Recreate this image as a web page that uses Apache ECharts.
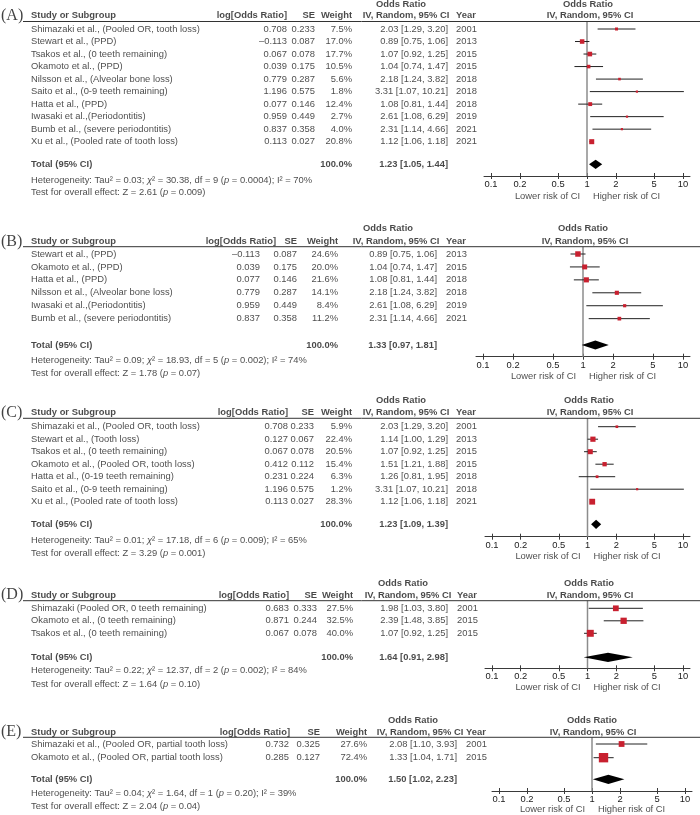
<!DOCTYPE html>
<html><head><meta charset="utf-8">
<script src="https://cdn.jsdelivr.net/npm/echarts@6/dist/echarts.min.js"></script>
<style>html,body{margin:0;padding:0;background:#fff}#c{width:700px;height:815px}</style>
</head><body><div id="c"></div>
<script>
// ---------- DATA ----------
const tickValues = [0.1, 0.2, 0.5, 1, 2, 5, 10];
const panelLabels = ['A', 'B', 'C', 'D', 'E'];

const A_study = ['Shimazaki et al., (Pooled OR, tooth loss)', 'Stewart et al., (PPD)', 'Tsakos et al., (0 teeth remaining)', 'Okamoto et al., (PPD)', 'Nilsson et al., (Alveolar bone loss)', 'Saito et al., (0-9 teeth remaining)', 'Hatta et al., (PPD)', 'Iwasaki et al.,(Periodontitis)', 'Bumb et al., (severe periodontitis)', 'Xu et al., (Pooled rate of tooth loss)'];
const A_logOR = [0.708, -0.113, 0.067, 0.039, 0.779, 1.196, 0.077, 0.959, 0.837, 0.113];
const A_se = [0.233, 0.087, 0.078, 0.175, 0.287, 0.575, 0.146, 0.449, 0.358, 0.027];
const A_weight = [7.5, 17.0, 17.7, 10.5, 5.6, 1.8, 12.4, 2.7, 4.0, 20.8];
const A_or = [2.03, 0.89, 1.07, 1.04, 2.18, 3.31, 1.08, 2.61, 2.31, 1.12];
const A_lo = [1.29, 0.75, 0.92, 0.74, 1.24, 1.07, 0.81, 1.08, 1.14, 1.06];
const A_hi = [3.20, 1.06, 1.25, 1.47, 3.82, 10.21, 1.44, 6.29, 4.66, 1.18];
const A_year = [2001, 2013, 2015, 2015, 2018, 2018, 2018, 2019, 2021, 2021];
const A_total = [1.23, 1.05, 1.44];
const A_het = ['0.03', '30.38', '9', '0.0004', '70'];
const A_test = ['2.61', '0.009'];

const B_study = ['Stewart et al., (PPD)', 'Okamoto et al., (PPD)', 'Hatta et al., (PPD)', 'Nilsson et al., (Alveolar bone loss)', 'Iwasaki et al.,(Periodontitis)', 'Bumb et al., (severe periodontitis)'];
const B_logOR = [-0.113, 0.039, 0.077, 0.779, 0.959, 0.837];
const B_se = [0.087, 0.175, 0.146, 0.287, 0.449, 0.358];
const B_weight = [24.6, 20.0, 21.6, 14.1, 8.4, 11.2];
const B_or = [0.89, 1.04, 1.08, 2.18, 2.61, 2.31];
const B_lo = [0.75, 0.74, 0.81, 1.24, 1.08, 1.14];
const B_hi = [1.06, 1.47, 1.44, 3.82, 6.29, 4.66];
const B_year = [2013, 2015, 2018, 2018, 2019, 2021];
const B_total = [1.33, 0.97, 1.81];
const B_het = ['0.09', '18.93', '5', '0.002', '74'];
const B_test = ['1.78', '0.07'];

const C_study = ['Shimazaki et al., (Pooled OR, tooth loss)', 'Stewart et al., (Tooth loss)', 'Tsakos et al., (0 teeth remaining)', 'Okamoto et al., (Pooled OR, tooth loss)', 'Hatta et al., (0-19 teeth remaining)', 'Saito et al., (0-9 teeth remaining)', 'Xu et al., (Pooled rate of tooth loss)'];
const C_logOR = [0.708, 0.127, 0.067, 0.412, 0.231, 1.196, 0.113];
const C_se = [0.233, 0.067, 0.078, 0.112, 0.224, 0.575, 0.027];
const C_weight = [5.9, 22.4, 20.5, 15.4, 6.3, 1.2, 28.3];
const C_or = [2.03, 1.14, 1.07, 1.51, 1.26, 3.31, 1.12];
const C_lo = [1.29, 1.00, 0.92, 1.21, 0.81, 1.07, 1.06];
const C_hi = [3.20, 1.29, 1.25, 1.88, 1.95, 10.21, 1.18];
const C_year = [2001, 2013, 2015, 2015, 2018, 2018, 2021];
const C_total = [1.23, 1.09, 1.39];
const C_het = ['0.01', '17.18', '6', '0.009', '65'];
const C_test = ['3.29', '0.001'];

const D_study = ['Shimazaki (Pooled OR, 0 teeth remaining)', 'Okamoto et al., (0 teeth remaining)', 'Tsakos et al., (0 teeth remaining)'];
const D_logOR = [0.683, 0.871, 0.067];
const D_se = [0.333, 0.244, 0.078];
const D_weight = [27.5, 32.5, 40.0];
const D_or = [1.98, 2.39, 1.07];
const D_lo = [1.03, 1.48, 0.92];
const D_hi = [3.80, 3.85, 1.25];
const D_year = [2001, 2015, 2015];
const D_total = [1.64, 0.91, 2.98];
const D_het = ['0.22', '12.37', '2', '0.002', '84'];
const D_test = ['1.64', '0.10'];

const E_study = ['Shimazaki et al., (Pooled OR, partial tooth loss)', 'Okamoto et al., (Pooled OR, partial tooth loss)'];
const E_logOR = [0.732, 0.285];
const E_se = [0.325, 0.127];
const E_weight = [27.6, 72.4];
const E_or = [2.08, 1.33];
const E_lo = [1.10, 1.04];
const E_hi = [3.93, 1.71];
const E_year = [2001, 2015];
const E_total = [1.50, 1.02, 2.23];
const E_het = ['0.04', '1.64', '1', '0.20', '39'];
const E_test = ['2.04', '0.04'];

// ---------- LAYOUT (pixels) ----------
const layout = [
  {odds:4, head:15.5, line:21.5, row0:29, rowH:12.52, total:164.3, het:180, test:192.7, axis:176, risk:196, x01:491, x10:683,
   c:{study:31, logor:287, logorVal:287, se:315, wt:352, ci:448, year:456, odds:401, iv:406, pOdds:588, pIv:590}},
  {odds:228.3, head:241.7, line:246.7, row0:254, rowH:12.93, total:345, het:360, test:373.3, axis:356.7, risk:376.7, x01:483, x10:683,
   c:{study:31, logor:276, logorVal:260, se:297, wt:338, ci:437, year:446, odds:388, iv:396, pOdds:583, pIv:585}},
  {odds:400.7, head:412.7, line:418.3, row0:426.7, rowH:12.5, total:524.3, het:540, test:553.3, axis:536.7, risk:556.7, x01:492, x10:683,
   c:{study:31, logor:288, logorVal:288, se:314, wt:352, ci:448, year:456, odds:401, iv:406, pOdds:589, pIv:590}},
  {odds:583.3, head:595, line:600.7, row0:608.3, rowH:12.5, total:657.3, het:670, test:684, axis:668.3, risk:687.3, x01:492, x10:683,
   c:{study:31, logor:289, logorVal:289, se:317, wt:353, ci:448, year:457, odds:403, iv:408, pOdds:589, pIv:590}},
  {odds:720.7, head:732, line:737.3, row0:744, rowH:13.7, total:779.3, het:793.3, test:806.7, axis:791, risk:809.3, x01:499, x10:685,
   c:{study:31, logor:290, logorVal:289, se:320, wt:367, ci:457, year:466, odds:413, iv:420, pOdds:592, pIv:593}}
];

const panelData = [
  [A_study, A_logOR, A_se, A_weight, A_or, A_lo, A_hi, A_year, A_total, A_het, A_test],
  [B_study, B_logOR, B_se, B_weight, B_or, B_lo, B_hi, B_year, B_total, B_het, B_test],
  [C_study, C_logOR, C_se, C_weight, C_or, C_lo, C_hi, C_year, C_total, C_het, C_test],
  [D_study, D_logOR, D_se, D_weight, D_or, D_lo, D_hi, D_year, D_total, D_het, D_test],
  [E_study, E_logOR, E_se, E_weight, E_or, E_lo, E_hi, E_year, E_total, E_het, E_test]
];

// ---------- STYLE ----------
const FONT = 'Liberation Sans, Arial, sans-serif';
const FS = 9.4;
const TXT = '#1a1a1a';
const RED = '#c8202f';
const EXT = 7;

function fmtSigned(n, d) { return (n < 0 ? '\u2013' : '') + Math.abs(n).toFixed(d); }
function ciText(o, l, h) { return o.toFixed(2) + ' [' + l.toFixed(2) + ', ' + h.toFixed(2) + ']'; }

const grids = [], xAxes = [], yAxes = [], series = [];

layout.forEach((L, k) => {
  const [study, logOR, se, weight, or, lo, hi, year, total, het, test] = panelData[k];
  const yIdx = py => (py - L.row0) / L.rowH;
  const yMin = yIdx(L.line), yMax = yIdx(L.axis);
  const ppd = (L.x10 - L.x01) / 2;
  const x1 = (L.x01 + L.x10) / 2;
  const gh = L.axis - L.line;

  // table grid
  const gT = grids.length;
  grids.push({left:0, top:L.line, width:700, height:gh, outerBoundsMode:'none', containLabel:false});
  const xT = xAxes.length;
  xAxes.push({gridIndex:gT, type:'value', min:0, max:700, show:false});
  const yT = yAxes.length;
  yAxes.push({gridIndex:gT, type:'value', inverse:true, min:yMin, max:yMax, show:false});

  // plot grid
  const gP = grids.length;
  grids.push({left:L.x01 - EXT, top:L.line, width:(L.x10 - L.x01) + 2 * EXT, height:gh, outerBoundsMode:'none', containLabel:false});
  const lmin = Math.pow(10, -1 - EXT / ppd), lmax = Math.pow(10, 1 + EXT / ppd);
  const xP = xAxes.length;
  xAxes.push({gridIndex:gP, type:'log', logBase:10, min:lmin, max:lmax, position:'bottom',
    axisLine:{show:true, onZero:false, lineStyle:{color:'#3a3a3a', width:1}},
    axisTick:{show:true, inside:false, length:3, customValues:tickValues, lineStyle:{color:'#3a3a3a', width:1}},
    axisLabel:{show:true, customValues:tickValues, margin:4, fontSize:FS, fontFamily:FONT, color:TXT,
      formatter: v => String(parseFloat(Number(v).toPrecision(3)))},
    splitLine:{show:false}, minorTick:{show:false}});
  // second axis moved down onto the first one: upward half of the crossing ticks
  xAxes.push({gridIndex:gP, type:'log', logBase:10, min:lmin, max:lmax, position:'top', offset:-gh,
    axisLine:{show:false},
    axisTick:{show:true, inside:false, length:3, customValues:tickValues, lineStyle:{color:'#3a3a3a', width:1}},
    axisLabel:{show:false}, splitLine:{show:false}, minorTick:{show:false}});
  const yP = yAxes.length;
  yAxes.push({gridIndex:gP, type:'value', inverse:true, min:yMin, max:yMax, show:false});

  // ----- texts -----
  const items = [];
  const add = (x, py, text, align, opts) => {
    items.push({value:[x, yIdx(py)], label:Object.assign({show:true, position:'inside', align:align, verticalAlign:'middle',
      formatter:text, fontSize:FS, fontFamily:FONT, color:TXT, fontWeight:'normal'}, opts || {})});
  };
  const B = {fontWeight:'bold'};
  add(1, L.head, '(' + panelLabels[k] + ')', 'left', {fontFamily:'Liberation Serif, Times New Roman, serif', fontSize:16, color:'#111'});
  add(L.c.study, L.head, 'Study or Subgroup', 'left', B);
  add(L.c.logor, L.head, 'log[Odds Ratio]', 'right', B);
  add(L.c.se, L.head, 'SE', 'right', B);
  add(L.c.wt, L.head, 'Weight', 'right', B);
  add(L.c.odds, L.odds, 'Odds Ratio', 'center', B);
  add(L.c.iv, L.head, 'IV, Random, 95% CI', 'center', B);
  add(L.c.year, L.head, 'Year', 'left', B);
  add(L.c.pOdds, L.odds, 'Odds Ratio', 'center', B);
  add(L.c.pIv, L.head, 'IV, Random, 95% CI', 'center', B);
  study.forEach((s, i) => {
    const py = L.row0 + i * L.rowH;
    add(L.c.study, py, s, 'left');
    add(L.c.logorVal, py, fmtSigned(logOR[i], 3), 'right');
    add(L.c.se, py, se[i].toFixed(3), 'right');
    add(L.c.wt, py, weight[i].toFixed(1) + '%', 'right');
    add(L.c.ci, py, ciText(or[i], lo[i], hi[i]), 'right');
    add(L.c.year, py, String(year[i]), 'left');
  });
  add(L.c.study, L.total, 'Total (95% CI)', 'left', B);
  add(L.c.wt, L.total, '100.0%', 'right', B);
  add(L.c.ci, L.total, ciText(total[0], total[1], total[2]), 'right', B);
  const rich = {i:{fontStyle:'italic', fontSize:FS, fontFamily:FONT, color:TXT}};
  add(L.c.study, L.het, 'Heterogeneity: Tau\u00b2 = ' + het[0] + '; {i|\u03c7}\u00b2 = ' + het[1] + ', df = ' + het[2] +
      ' ({i|p} = ' + het[3] + '); I\u00b2 = ' + het[4] + '%', 'left', {rich});
  add(L.c.study, L.test, 'Test for overall effect: Z = ' + test[0] + ' ({i|p} = ' + test[1] + ')', 'left', {rich});
  add(x1 - 7, L.risk, 'Lower risk of CI', 'right');
  add(x1 + 6, L.risk, 'Higher risk of CI', 'left');

  series.push({type:'scatter', xAxisIndex:xT, yAxisIndex:yT, symbolSize:0, clip:false, silent:true, animation:false,
    data:items, z:5});

  // header rule
  series.push({type:'line', xAxisIndex:xT, yAxisIndex:yT, symbol:'none', silent:true, animation:false, clip:false,
    data:[[23, yMin], [700, yMin]], lineStyle:{color:'#333', width:1}, z:3});

  // vertical null line at OR = 1
  series.push({type:'line', xAxisIndex:xP, yAxisIndex:yP, symbol:'none', silent:true, animation:false, clip:false,
    data:[[1, yMin], [1, yMax]], lineStyle:{color:'#8c8c8c', width:1.5}, z:2});

  // study CIs + weighted squares
  series.push({type:'custom', xAxisIndex:xP, yAxisIndex:yP, silent:true, animation:false, clip:false, z:6,
    data: study.map((s, i) => [or[i], i, lo[i], hi[i], weight[i]]),
    encode:{x:[0, 2, 3], y:1},
    renderItem: (params, api) => {
      const c = api.coord([api.value(0), api.value(1)]);
      const a = api.coord([api.value(2), api.value(1)]);
      const b = api.coord([api.value(3), api.value(1)]);
      const s = Math.max(2.2, 1.1 * Math.sqrt(api.value(4)));
      return {type:'group', children:[
        {type:'line', shape:{x1:a[0], y1:a[1], x2:b[0], y2:b[1]}, style:{stroke:'#222', lineWidth:1}},
        {type:'rect', shape:{x:c[0] - s / 2, y:c[1] - s / 2, width:s, height:s}, style:{fill:RED}}
      ]};
    }});

  // total diamond
  const totalRow = yIdx(L.total);
  series.push({type:'custom', xAxisIndex:xP, yAxisIndex:yP, silent:true, animation:false, clip:false, z:6,
    data:[[total[0], totalRow, total[1], total[2]]],
    encode:{x:[0, 2, 3], y:1},
    renderItem: (params, api) => {
      const c = api.coord([api.value(0), api.value(1)]);
      const a = api.coord([api.value(2), api.value(1)]);
      const b = api.coord([api.value(3), api.value(1)]);
      const h = 4.6;
      return {type:'polygon', shape:{points:[[a[0], c[1]], [c[0], c[1] - h], [b[0], c[1]], [c[0], c[1] + h]]},
        style:{fill:'#000'}};
    }});
});

const chart = echarts.init(document.getElementById('c'), null, {renderer:'canvas'});
chart.setOption({animation:false, backgroundColor:'#fff', grid:grids, xAxis:xAxes, yAxis:yAxes, series:series});
</script>
</body></html>
